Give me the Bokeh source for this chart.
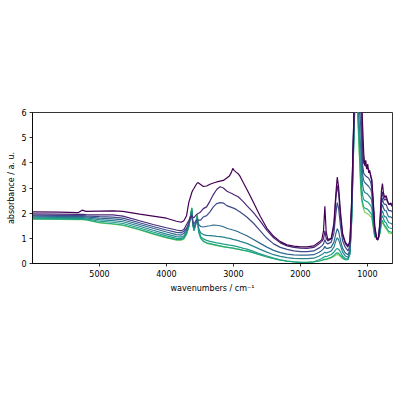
from bokeh.plotting import figure
from bokeh.models import Range1d, FixedTicker
from bokeh.embed import file_html
from bokeh.resources import INLINE

# wavenumber grid (cm^-1), shared by all spectra
wn = [6000, 5600, 5320, 5290, 5260, 5200, 5000, 4800, 4650, 4400,
      4200, 4000, 3850, 3780, 3740, 3700, 3665, 3640, 3622, 3605,
      3590, 3565, 3540, 3520, 3490, 3450, 3400, 3350, 3300, 3250,
      3200, 3150, 3100, 3060, 3030, 3010, 2990, 2960, 2930, 2900,
      2850, 2800, 2700, 2600, 2500, 2400, 2300, 2200, 2100, 2000,
      1900, 1800, 1720, 1680, 1655, 1635, 1615, 1590, 1540, 1500,
      1470, 1450, 1430, 1400, 1370, 1330, 1290, 1260, 1235, 1210,
      1190, 1150, 1100, 1085, 1070, 1055, 1040, 1025, 1010, 995,
      980, 965, 950, 935, 915, 890, 860, 845, 830, 810,
      790, 775, 760, 740, 720, 700, 680, 650, 625]

a0 = [2.05, 2.04, 2.02, 2.07, 2.12, 2.07, 2.08, 2.09, 2.07, 1.96,
      1.88, 1.80, 1.68, 1.64, 1.70, 1.90, 2.45, 2.65, 2.82, 2.92,
      2.98, 3.10, 3.20, 3.20, 3.14, 3.06, 3.08, 3.15, 3.20, 3.24,
      3.27, 3.30, 3.40, 3.48, 3.62, 3.78, 3.70, 3.63, 3.57, 3.46,
      3.20, 2.95, 2.42, 1.88, 1.40, 1.08, 0.87, 0.74, 0.69, 0.66,
      0.66, 0.70, 0.85, 0.95, 1.30, 2.27, 1.25, 0.95, 1.00, 1.60,
      2.80, 3.43, 3.05, 2.00, 1.20, 0.85, 0.70, 0.90, 2.50, 5.00,
      7.00, 7.50, 7.00, 6.50, 5.40, 4.40, 3.90, 4.10, 3.75, 3.95,
      3.60, 3.70, 3.45, 3.35, 2.60, 1.50, 0.98, 0.93, 1.10, 1.80,
      2.90, 3.18, 2.80, 2.62, 2.70, 2.50, 2.35, 2.40, 2.30]

a1 = [1.97, 1.96, 1.95, 1.95, 1.95, 1.94, 1.93, 1.93, 1.88, 1.70,
      1.55, 1.42, 1.33, 1.30, 1.35, 1.55, 1.72, 1.85, 1.90, 1.84,
      1.82, 1.90, 1.97, 2.00, 2.05, 2.18, 2.25, 2.48, 2.74, 2.94,
      3.05, 3.00, 2.88, 2.82, 2.79, 2.76, 2.73, 2.69, 2.65, 2.58,
      2.45, 2.30, 2.02, 1.68, 1.32, 1.02, 0.82, 0.70, 0.64, 0.61,
      0.60, 0.64, 0.78, 0.88, 0.98, 1.30, 1.00, 0.90, 0.97, 1.45,
      2.60, 3.10, 2.80, 1.80, 1.10, 0.80, 0.65, 0.85, 2.40, 5.00,
      7.00, 7.50, 6.80, 6.00, 4.50, 4.00, 3.92, 3.88, 3.82, 3.78,
      3.72, 3.62, 3.52, 3.30, 2.50, 1.40, 0.98, 0.95, 1.10, 1.70,
      2.60, 2.85, 2.60, 2.52, 2.58, 2.45, 2.35, 2.35, 2.25]

a2 = [1.92, 1.91, 1.90, 1.90, 1.90, 1.89, 1.86, 1.84, 1.80, 1.62,
      1.47, 1.33, 1.24, 1.22, 1.28, 1.40, 1.60, 1.80, 1.85, 1.62,
      1.58, 1.68, 1.75, 1.72, 1.72, 1.85, 1.90, 2.05, 2.25, 2.38,
      2.42, 2.40, 2.30, 2.26, 2.23, 2.21, 2.19, 2.15, 2.10, 2.05,
      1.95, 1.85, 1.60, 1.30, 1.00, 0.78, 0.64, 0.56, 0.50, 0.47,
      0.47, 0.50, 0.62, 0.70, 0.78, 0.95, 0.82, 0.78, 0.85, 1.20,
      2.00, 2.42, 2.20, 1.45, 0.90, 0.65, 0.50, 0.70, 2.20, 4.80,
      6.80, 7.20, 6.30, 5.00, 3.90, 3.60, 3.52, 3.48, 3.45, 3.42,
      3.38, 3.32, 3.22, 3.00, 2.30, 1.30, 0.97, 0.95, 1.10, 1.60,
      2.40, 2.60, 2.40, 2.35, 2.35, 2.20, 2.10, 2.10, 2.05]

a3 = [1.88, 1.87, 1.86, 1.86, 1.86, 1.85, 1.80, 1.77, 1.73, 1.55,
      1.40, 1.25, 1.15, 1.13, 1.20, 1.35, 1.62, 1.90, 2.00, 1.60,
      1.45, 1.60, 1.72, 1.55, 1.47, 1.45, 1.48, 1.50, 1.53, 1.52,
      1.50, 1.46, 1.40, 1.37, 1.35, 1.33, 1.32, 1.29, 1.26, 1.22,
      1.16, 1.10, 0.95, 0.80, 0.65, 0.52, 0.43, 0.37, 0.34, 0.33,
      0.33, 0.35, 0.45, 0.52, 0.58, 0.68, 0.60, 0.60, 0.65, 0.85,
      1.20, 1.38, 1.28, 0.90, 0.60, 0.42, 0.35, 0.55, 2.00, 4.60,
      6.60, 7.00, 5.50, 4.20, 3.50, 3.30, 3.22, 3.18, 3.14, 3.10,
      3.06, 3.00, 2.95, 2.80, 2.10, 1.20, 0.98, 0.97, 1.10, 1.50,
      2.20, 2.35, 2.20, 2.10, 2.10, 1.95, 1.85, 1.85, 1.80]

a4 = [1.84, 1.83, 1.82, 1.82, 1.82, 1.81, 1.74, 1.70, 1.66, 1.48,
      1.32, 1.17, 1.07, 1.05, 1.10, 1.28, 1.55, 1.90, 2.10, 1.55,
      1.38, 1.55, 1.80, 1.40, 1.22, 1.15, 1.12, 1.11, 1.10, 1.08,
      1.07, 1.05, 1.02, 1.00, 0.98, 0.96, 0.95, 0.93, 0.91, 0.88,
      0.84, 0.80, 0.68, 0.56, 0.45, 0.35, 0.28, 0.23, 0.20, 0.19,
      0.19, 0.21, 0.30, 0.36, 0.40, 0.45, 0.42, 0.44, 0.50, 0.65,
      0.90, 1.02, 0.95, 0.70, 0.45, 0.30, 0.25, 0.45, 1.80, 4.40,
      6.40, 6.80, 4.60, 3.60, 3.10, 2.90, 2.82, 2.80, 2.78, 2.75,
      2.70, 2.65, 2.60, 2.50, 1.90, 1.15, 1.00, 0.98, 1.05, 1.40,
      2.00, 2.10, 1.95, 1.85, 1.85, 1.72, 1.62, 1.60, 1.55]

a5 = [1.80, 1.79, 1.78, 1.78, 1.78, 1.77, 1.68, 1.64, 1.59, 1.41,
      1.25, 1.10, 1.00, 0.99, 1.04, 1.22, 1.50, 1.90, 2.18, 1.55,
      1.32, 1.52, 1.88, 1.30, 1.08, 0.98, 0.92, 0.88, 0.85, 0.82,
      0.80, 0.77, 0.75, 0.73, 0.72, 0.71, 0.70, 0.68, 0.66, 0.64,
      0.60, 0.57, 0.48, 0.38, 0.30, 0.22, 0.15, 0.10, 0.07, 0.05,
      0.05, 0.07, 0.15, 0.20, 0.25, 0.28, 0.27, 0.30, 0.36, 0.45,
      0.55, 0.60, 0.57, 0.45, 0.30, 0.20, 0.18, 0.40, 1.70, 4.20,
      6.20, 6.60, 3.80, 3.00, 2.70, 2.55, 2.50, 2.48, 2.46, 2.45,
      2.40, 2.35, 2.30, 2.20, 1.70, 1.10, 1.00, 0.98, 1.05, 1.30,
      1.80, 1.90, 1.78, 1.65, 1.62, 1.50, 1.42, 1.40, 1.38]

a6 = [1.77, 1.76, 1.75, 1.75, 1.75, 1.74, 1.63, 1.58, 1.53, 1.35,
      1.19, 1.04, 0.95, 0.95, 1.00, 1.18, 1.48, 1.88, 2.20, 1.55,
      1.30, 1.55, 1.93, 1.25, 1.00, 0.88, 0.82, 0.79, 0.76, 0.73,
      0.70, 0.67, 0.65, 0.63, 0.62, 0.61, 0.60, 0.58, 0.57, 0.55,
      0.52, 0.50, 0.42, 0.34, 0.26, 0.19, 0.13, 0.09, 0.06, 0.04,
      0.04, 0.06, 0.10, 0.13, 0.16, 0.18, 0.17, 0.20, 0.25, 0.32,
      0.40, 0.42, 0.40, 0.32, 0.22, 0.15, 0.15, 0.38, 1.65, 4.10,
      6.10, 6.40, 3.20, 2.60, 2.40, 2.25, 2.20, 2.19, 2.17, 2.15,
      2.10, 2.05, 2.00, 1.95, 1.55, 1.08, 1.02, 1.00, 1.05, 1.25,
      1.65, 1.72, 1.60, 1.50, 1.45, 1.35, 1.28, 1.25, 1.22]

a7 = [1.76, 1.75, 1.74, 1.74, 1.74, 1.73, 1.61, 1.56, 1.51, 1.33,
      1.17, 1.02, 0.93, 0.93, 0.98, 1.15, 1.45, 1.85, 2.22, 1.60,
      1.35, 1.60, 1.95, 1.40, 1.05, 0.90, 0.80, 0.77, 0.74, 0.71,
      0.69, 0.66, 0.64, 0.63, 0.62, 0.61, 0.60, 0.58, 0.57, 0.55,
      0.52, 0.50, 0.43, 0.35, 0.27, 0.20, 0.14, 0.10, 0.07, 0.05,
      0.05, 0.07, 0.10, 0.12, 0.14, 0.16, 0.15, 0.18, 0.22, 0.28,
      0.34, 0.36, 0.34, 0.28, 0.20, 0.15, 0.17, 0.50, 2.00, 4.20,
      6.00, 6.20, 3.00, 2.50, 2.30, 2.15, 2.05, 2.02, 2.00, 1.97,
      1.95, 1.90, 1.87, 1.82, 1.45, 1.05, 1.02, 1.00, 1.05, 1.20,
      1.55, 1.65, 1.55, 1.45, 1.38, 1.30, 1.22, 1.20, 1.18]

series = [a0, a1, a2, a3, a4, a5, a6, a7]
colors = ["#440154", "#482878", "#3e4a89", "#31688e",
          "#26828e", "#1f9e89", "#22a884", "#7ad151"]

x_ticks = [5000, 4000, 3000, 2000, 1000]
y_ticks = [0, 1, 2, 3, 4, 5, 6]

FONT = "DejaVu Sans"

p = figure(width=393, height=392, output_backend="svg", toolbar_location=None,
           x_range=Range1d(6000, 625), y_range=Range1d(0, 6),
           min_border_left=32, min_border_right=1,
           min_border_top=112, min_border_bottom=129)
p.background_fill_color = "white"
p.border_fill_color = "white"
p.outline_line_color = "black"
p.outline_line_width = 0.8
p.xgrid.visible = False
p.ygrid.visible = False

# draw lightest first so the darkest spectrum is on top
for ys, c in reversed(list(zip(series, colors))):
    p.line(wn, ys, line_color=c, line_width=1.2)

for ax in (p.xaxis[0], p.yaxis[0]):
    ax.axis_line_color = "black"
    ax.axis_line_width = 0.8
    ax.major_tick_line_color = "black"
    ax.major_tick_line_width = 0.8
    ax.major_tick_in = 0
    ax.major_tick_out = 3
    ax.minor_tick_line_color = None
    ax.major_label_text_font = FONT
    ax.major_label_text_font_size = "8px"
    ax.major_label_text_color = "black"
    ax.major_label_standoff = 3
    ax.axis_label_text_font = FONT
    ax.axis_label_text_font_size = "8px"
    ax.axis_label_text_font_style = "normal"
    ax.axis_label_text_color = "black"
    ax.axis_label_standoff = 4

p.yaxis[0].axis_label_standoff = 2
p.xaxis.ticker = FixedTicker(ticks=x_ticks)
p.yaxis.ticker = FixedTicker(ticks=y_ticks)
p.xaxis.axis_label = "wavenumbers / cm\u207b\u00b9"
p.yaxis.axis_label = "absorbance / a. u."

open("out.html", "w").write(file_html(p, INLINE))
